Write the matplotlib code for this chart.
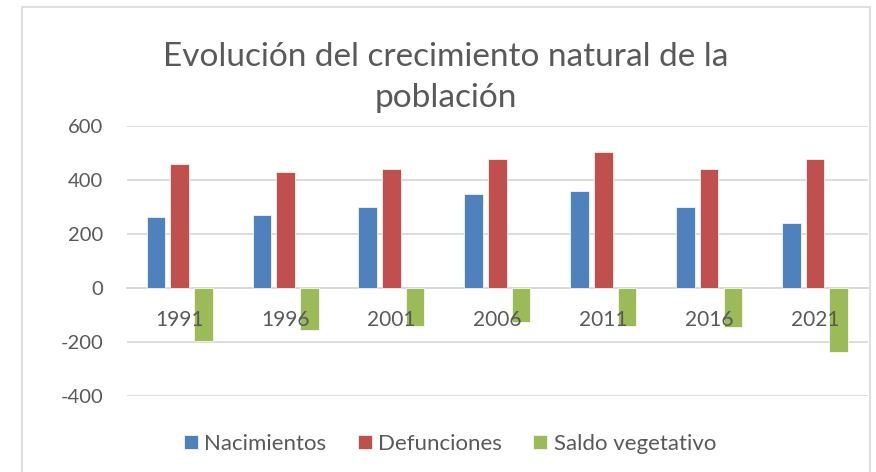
import matplotlib
matplotlib.use("Agg")
import matplotlib.pyplot as plt
import numpy as np
from matplotlib.patches import Rectangle

plt.rcParams['font.family'] = ['Lato', 'DejaVu Sans']
plt.rcParams['axes.unicode_minus'] = False

years = ['1991', '1996', '2001', '2006', '2011', '2016', '2021']
nacimientos = [263, 272, 300, 348, 361, 299, 242]
defunciones = [459, 428, 439, 476, 502, 442, 479]
saldo = [-196, -156, -139, -126, -141, -143, -237]
series_names = ['Nacimientos', 'Defunciones', 'Saldo vegetativo']
colors = ['#4F81BD', '#C0504D', '#9BBB59']
yticks = [-400, -200, 0, 200, 400, 600]
title = 'Evolución del crecimiento natural de la\npoblación'

W, H = 876, 472
fig = plt.figure(figsize=(W / 100, H / 100), dpi=100)
txt = '#595959'
grid = '#D9D9D9'

# chart border
fig.patches.append(Rectangle((22 / W, -0.05), (870 - 22) / W, (472 - 7) / H + 0.05,
                             transform=fig.transFigure, fill=False,
                             edgecolor=grid, linewidth=1.2))

ax = fig.add_axes([126.7 / W, 1 - 396 / H, (868 - 126.7) / W, (396 - 126) / H])
x = np.arange(len(years))
bw = 0.176
step = 0.224
for k, (vals, name, c) in enumerate(zip([nacimientos, defunciones, saldo], series_names, colors)):
    ax.bar(x + (k - 1) * step, vals, width=bw, color=c, label=name,
           edgecolor='white', linewidth=0.5, zorder=3)

ax.set_xlim(-0.5, len(years) - 0.5)
ax.set_ylim(-400, 600)
ax.set_yticks(yticks)
ax.set_yticklabels([str(v) for v in yticks])
ax.yaxis.grid(True, color=grid, linewidth=1.3)
ax.set_axisbelow(True)
for s in ['top', 'right', 'left']:
    ax.spines[s].set_visible(False)
ax.spines['bottom'].set_position(('data', 0))
ax.spines['bottom'].set_color(grid)
ax.spines['bottom'].set_linewidth(1.3)
ax.spines['bottom'].set_zorder(1)
ax.set_xticks(x)
ax.set_xticklabels(years)
ax.xaxis.set_zorder(5)
ax.tick_params(axis='x', length=0, pad=16, labelsize=15, labelcolor=txt)
ax.tick_params(axis='y', length=0, pad=17, labelsize=14.5, labelcolor=txt)

fig.text(446 / W, 1 - 106.7 / H, title, ha='center', va='baseline',
         fontsize=24, color=txt, linespacing=1.45)

handles, labels = ax.get_legend_handles_labels()
fig.legend(handles, labels, loc='center', bbox_to_anchor=(450 / W, 1 - 444 / H),
           ncol=3, frameon=False, fontsize=16, labelcolor=txt,
           handlelength=0.63, handleheight=0.63, handletextpad=0.3, columnspacing=1.4)

fig.savefig('out.png', dpi=100)
